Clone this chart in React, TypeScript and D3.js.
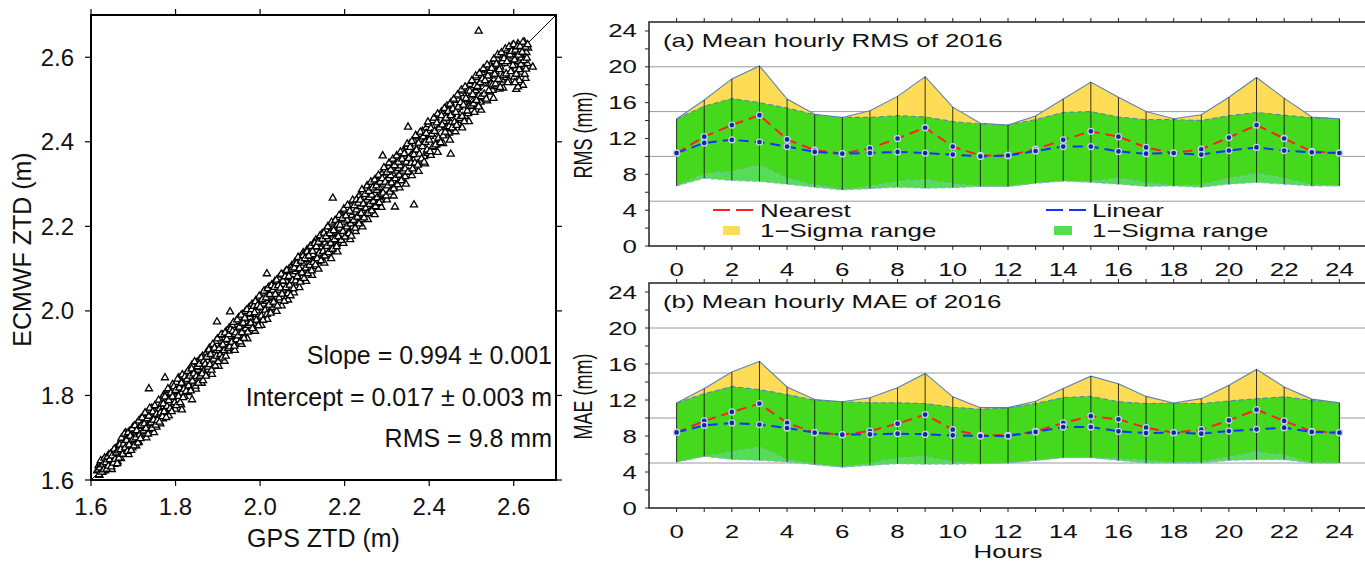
import React from 'react';
import * as d3 from 'd3';

const W = 1365;
const H = 562;
const FONT = "'Liberation Sans', Arial, Helvetica, sans-serif";
const SX = 1.44; // horizontal stretch of the right-hand panels' lettering

// ---------- Scatter data (GPS ZTD, ECMWF ZTD) in metres ----------
const scatterPoints: [number, number][] = [
  [1.615,1.622],[1.618,1.634],[1.620,1.611],[1.622,1.640],[1.624,1.627],[1.627,1.618],[1.629,1.645],[1.631,1.633],[1.633,1.622],[1.636,1.651],[1.638,1.641],[1.640,1.628],[1.642,1.660],[1.645,1.637],[1.647,1.650],[1.649,1.625],[1.652,1.668],[1.654,1.646],[1.656,1.637],[1.658,1.674],[1.661,1.655],[1.663,1.643],[1.665,1.681],
  [1.667,1.662],[1.669,1.690],[1.671,1.651],[1.673,1.678],[1.676,1.700],[1.678,1.665],[1.680,1.689],[1.682,1.712],[1.685,1.671],[1.687,1.697],[1.689,1.660],[1.691,1.715],[1.694,1.684],[1.696,1.703],[1.698,1.676],[1.700,1.726],[1.703,1.692],[1.705,1.714],[1.707,1.681],[1.709,1.734],[1.711,1.702],[1.713,1.690],[1.715,1.727],
  [1.717,1.744],[1.719,1.708],[1.722,1.731],[1.724,1.752],[1.726,1.715],[1.728,1.740],[1.731,1.700],[1.733,1.757],[1.735,1.728],[1.737,1.765],[1.740,1.719],[1.742,1.748],[1.744,1.770],[1.746,1.735],[1.749,1.712],[1.751,1.762],[1.753,1.744],[1.755,1.725],[1.758,1.781],[1.760,1.752],[1.762,1.768],[1.764,1.733],[1.766,1.790],
  [1.768,1.758],[1.770,1.745],[1.772,1.801],[1.775,1.779],[1.777,1.760],[1.779,1.808],[1.781,1.790],[1.784,1.752],[1.786,1.812],[1.788,1.795],[1.790,1.770],[1.793,1.826],[1.795,1.803],[1.797,1.779],[1.799,1.768],[1.802,1.831],[1.804,1.810],[1.806,1.789],[1.808,1.842],[1.811,1.820],[1.813,1.778],[1.815,1.807],[1.817,1.846],
  [1.819,1.826],[1.821,1.798],[1.824,1.850],[1.826,1.815],[1.828,1.834],[1.830,1.807],[1.833,1.862],[1.835,1.841],[1.837,1.819],[1.839,1.872],[1.842,1.848],[1.844,1.826],[1.846,1.856],[1.848,1.815],[1.851,1.879],[1.853,1.860],[1.855,1.838],[1.857,1.885],[1.860,1.866],[1.862,1.829],[1.864,1.893],[1.866,1.858],[1.868,1.874],
  [1.870,1.852],[1.873,1.901],[1.875,1.882],[1.877,1.860],[1.880,1.912],[1.882,1.890],[1.884,1.868],[1.886,1.850],[1.889,1.918],[1.891,1.897],[1.893,1.878],[1.895,1.928],[1.898,1.906],[1.900,1.884],[1.902,1.869],[1.904,1.936],[1.907,1.915],[1.909,1.893],[1.911,1.943],[1.913,1.920],[1.916,1.881],[1.918,1.925],[1.920,1.952],
  [1.922,1.931],[1.925,1.905],[1.927,1.960],[1.929,1.939],[1.931,1.918],[1.934,1.966],[1.936,1.944],[1.938,1.922],[1.940,1.907],[1.943,1.975],[1.945,1.953],[1.947,1.930],[1.949,1.984],[1.952,1.960],[1.954,1.938],[1.956,1.921],[1.958,1.992],[1.961,1.969],[1.963,1.946],[1.965,1.999],[1.967,1.975],[1.970,1.934],[1.972,1.981],
  [1.974,2.008],[1.976,1.985],[1.979,1.962],[1.981,2.016],[1.983,1.992],[1.985,1.969],[1.988,1.952],[1.990,2.025],[1.992,2.000],[1.994,1.977],[1.997,2.031],[1.999,2.008],[2.001,1.984],[2.003,1.966],[2.006,2.042],[2.008,2.016],[2.010,1.993],[2.012,2.048],[2.015,2.023],[2.017,1.980],[2.019,2.030],[2.021,2.057],[2.024,2.001],
  [2.026,2.035],[2.028,2.062],[2.030,2.008],[2.033,2.041],[2.035,2.070],[2.037,2.016],[2.039,1.999],[2.042,2.049],[2.044,2.078],[2.046,2.025],[2.048,2.057],[2.051,2.012],[2.053,2.085],[2.055,2.063],[2.057,2.034],[2.060,2.093],[2.062,2.070],[2.064,2.043],[2.066,2.026],[2.069,2.100],[2.071,2.079],[2.073,2.052],[2.075,2.107],
  [2.078,2.086],[2.080,2.043],[2.082,2.115],[2.084,2.093],[2.087,2.066],[2.089,2.120],[2.091,2.099],[2.093,2.055],[2.096,2.128],[2.098,2.106],[2.100,2.080],[2.102,2.138],[2.105,2.113],[2.107,2.089],[2.109,2.070],[2.111,2.145],[2.114,2.122],[2.116,2.096],[2.118,2.152],[2.120,2.129],[2.123,2.084],[2.125,2.133],[2.127,2.161],
  [2.129,2.105],[2.132,2.168],[2.134,2.143],[2.136,2.117],[2.138,2.099],[2.141,2.175],[2.143,2.151],[2.145,2.125],[2.147,2.183],[2.150,2.158],[2.152,2.113],[2.154,2.161],[2.156,2.192],[2.159,2.134],[2.161,2.170],[2.163,2.200],[2.165,2.141],[2.168,2.124],[2.170,2.206],[2.172,2.180],[2.174,2.152],[2.177,2.213],[2.179,2.187],
  [2.181,2.158],[2.183,2.140],[2.186,2.221],[2.188,2.196],[2.190,2.168],[2.192,2.228],[2.195,2.204],[2.197,2.160],[2.199,2.210],[2.201,2.237],[2.204,2.180],[2.206,2.215],[2.208,2.244],[2.210,2.186],[2.213,2.169],[2.215,2.251],[2.217,2.226],[2.219,2.198],[2.222,2.258],[2.224,2.233],[2.226,2.188],[2.228,2.239],[2.231,2.266],
  [2.233,2.210],[2.235,2.273],[2.237,2.247],[2.240,2.216],[2.242,2.199],[2.244,2.281],[2.246,2.255],[2.249,2.227],[2.251,2.288],[2.253,2.262],[2.255,2.216],[2.258,2.268],[2.260,2.297],[2.262,2.238],[2.264,2.274],[2.267,2.304],[2.269,2.245],[2.271,2.228],[2.273,2.311],[2.276,2.285],[2.278,2.254],[2.280,2.318],[2.282,2.292],
  [2.285,2.262],[2.287,2.245],[2.289,2.326],[2.291,2.300],[2.294,2.270],[2.296,2.334],[2.298,2.308],[2.300,2.263],[2.303,2.313],[2.305,2.342],[2.307,2.283],[2.309,2.320],[2.312,2.350],[2.314,2.290],[2.316,2.272],[2.318,2.356],[2.321,2.331],[2.323,2.300],[2.325,2.363],[2.327,2.337],[2.330,2.291],[2.332,2.343],[2.334,2.371],
  [2.336,2.313],[2.339,2.379],[2.341,2.351],[2.343,2.318],[2.345,2.300],[2.348,2.388],[2.350,2.360],[2.352,2.328],[2.354,2.395],[2.357,2.368],[2.359,2.320],[2.361,2.372],[2.363,2.404],[2.366,2.341],[2.368,2.380],[2.370,2.412],[2.372,2.348],[2.375,2.330],[2.377,2.418],[2.379,2.390],[2.381,2.357],[2.384,2.425],[2.386,2.398],
  [2.388,2.365],[2.390,2.348],[2.393,2.433],[2.395,2.406],[2.397,2.373],[2.399,2.441],[2.402,2.413],[2.404,2.368],[2.406,2.418],[2.408,2.450],[2.411,2.387],[2.413,2.426],[2.415,2.457],[2.417,2.393],[2.420,2.375],[2.422,2.463],[2.424,2.436],[2.426,2.402],[2.429,2.471],[2.431,2.443],[2.433,2.396],[2.435,2.448],[2.438,2.478],
  [2.440,2.416],[2.442,2.485],[2.444,2.455],[2.447,2.421],[2.449,2.404],[2.451,2.492],[2.453,2.465],[2.456,2.431],[2.458,2.498],[2.460,2.471],[2.462,2.424],[2.465,2.476],[2.467,2.508],[2.469,2.444],[2.471,2.483],[2.474,2.514],[2.476,2.451],[2.478,2.433],[2.480,2.520],[2.483,2.494],[2.485,2.460],[2.487,2.527],[2.489,2.500],
  [2.492,2.467],[2.494,2.448],[2.496,2.536],[2.498,2.509],[2.501,2.475],[2.503,2.543],[2.505,2.516],[2.507,2.470],[2.510,2.521],[2.512,2.552],[2.514,2.489],[2.516,2.528],[2.519,2.558],[2.521,2.494],[2.523,2.475],[2.525,2.564],[2.528,2.537],[2.530,2.504],[2.532,2.570],[2.534,2.545],[2.537,2.497],[2.539,2.549],[2.541,2.577],
  [2.543,2.518],[2.546,2.582],[2.548,2.556],[2.550,2.522],[2.552,2.503],[2.555,2.590],[2.557,2.566],[2.559,2.531],[2.561,2.596],[2.564,2.573],[2.566,2.525],[2.568,2.577],[2.570,2.604],[2.573,2.546],[2.575,2.527],[2.577,2.610],[2.579,2.585],[2.582,2.552],[2.584,2.616],[2.586,2.592],[2.588,2.545],[2.591,2.598],[2.593,2.622],
  [2.595,2.568],[2.597,2.628],[2.599,2.603],[2.601,2.553],[2.604,2.580],[2.606,2.524],[2.608,2.612],[2.610,2.632],[2.612,2.590],[2.615,2.540],[2.617,2.618],[2.619,2.565],[2.621,2.600],[2.623,2.629],[2.626,2.578],[2.628,2.550],[2.630,2.611],[2.632,2.585],[2.634,2.622],[2.625,2.636],[2.618,2.598],[2.613,2.571],
  [2.517,2.662],[2.645,2.577],[2.451,2.371],[2.364,2.251],[2.172,2.267],[2.319,2.246],[2.290,2.367],[2.350,2.435],[1.737,1.816],[1.775,1.842],[1.839,1.790],[1.815,1.766],[1.898,1.974],[1.929,1.998],[2.016,2.088],
];
const scatterPoints2: [number, number][] = [
  [1.616,1.624],[1.619,1.613],[1.621,1.629],[1.623,1.646],[1.626,1.619],[1.628,1.636],[1.630,1.624],[1.632,1.652],[1.635,1.641],[1.637,1.626],[1.639,1.655],[1.641,1.633],[1.644,1.648],[1.646,1.662],[1.648,1.631],[1.650,1.657],[1.653,1.640],[1.655,1.673],[1.657,1.649],[1.659,1.664],[1.662,1.639],[1.664,1.669],[1.666,1.652],
  [1.668,1.683],[1.670,1.672],[1.672,1.699],[1.675,1.661],[1.677,1.685],[1.679,1.709],[1.681,1.676],[1.684,1.694],[1.686,1.668],[1.688,1.712],[1.690,1.683],[1.693,1.704],[1.695,1.670],[1.697,1.721],[1.699,1.696],[1.702,1.681],[1.704,1.729],[1.706,1.700],[1.708,1.717],[1.711,1.688],[1.713,1.740],[1.715,1.707],[1.717,1.698],
  [1.719,1.729],[1.721,1.747],[1.724,1.716],[1.726,1.733],[1.728,1.759],[1.730,1.722],[1.733,1.745],[1.735,1.709],[1.737,1.751],[1.739,1.770],[1.742,1.735],[1.744,1.722],[1.746,1.761],[1.748,1.742],[1.751,1.776],[1.753,1.730],[1.755,1.756],[1.757,1.741],[1.760,1.789],[1.762,1.737],[1.764,1.759],[1.766,1.779],[1.769,1.750],
  [1.771,1.780],[1.773,1.762],[1.775,1.797],[1.778,1.748],[1.780,1.774],[1.782,1.816],[1.784,1.788],[1.787,1.769],[1.789,1.806],[1.791,1.762],[1.793,1.797],[1.796,1.821],[1.798,1.783],[1.800,1.812],[1.802,1.776],[1.805,1.839],[1.807,1.798],[1.809,1.818],[1.811,1.783],[1.814,1.829],[1.816,1.849],[1.818,1.795],[1.820,1.815],
  [1.822,1.844],[1.825,1.810],[1.827,1.838],[1.829,1.857],[1.831,1.823],[1.834,1.846],[1.836,1.811],[1.838,1.863],[1.840,1.834],[1.843,1.851],[1.845,1.880],[1.847,1.822],[1.849,1.845],[1.852,1.868],[1.854,1.829],[1.856,1.874],[1.858,1.846],[1.861,1.889],[1.863,1.851],[1.865,1.835],[1.867,1.881],[1.870,1.874],[1.872,1.846],
  [1.874,1.891],[1.876,1.867],[1.879,1.908],[1.881,1.873],[1.883,1.897],[1.885,1.860],[1.888,1.921],[1.890,1.886],[1.892,1.912],[1.894,1.870],[1.897,1.893],[1.899,1.934],[1.901,1.880],[1.903,1.911],[1.906,1.897],[1.908,1.944],[1.910,1.889],[1.912,1.920],[1.915,1.906],[1.917,1.948],[1.919,1.893],[1.921,1.933],[1.924,1.911],
  [1.926,1.944],[1.928,1.915],[1.930,1.956],[1.933,1.926],[1.935,1.952],[1.937,1.973],[1.939,1.917],[1.942,1.948],[1.944,1.932],[1.946,1.979],[1.948,1.941],[1.951,1.962],[1.953,1.927],[1.955,1.990],[1.957,1.949],[1.960,1.971],[1.962,1.935],[1.964,1.983],[1.966,1.958],[1.969,2.003],[1.971,1.950],[1.973,1.966],[1.976,1.994],
  [1.978,1.971],[1.980,2.003],[1.982,1.958],[1.985,2.011],[1.987,1.996],[1.989,2.022],[1.991,1.978],[1.994,2.013],[1.996,1.965],[1.998,2.035],[2.000,2.009],[2.003,1.988],[2.005,2.027],[2.007,1.978],[2.009,2.047],[2.012,2.002],[2.014,2.031],[2.016,1.992],[2.018,2.053],[2.021,2.014],[2.023,2.039],[2.025,1.995],[2.027,2.060],
  [2.030,2.049],[2.032,2.021],[2.034,2.056],[2.036,2.039],[2.039,2.073],[2.041,2.012],[2.043,2.060],[2.045,2.031],[2.048,2.054],[2.050,2.087],[2.052,2.040],[2.054,2.071],[2.057,2.023],[2.059,2.081],[2.061,2.055],[2.063,2.096],[2.066,2.041],[2.068,2.082],[2.070,2.061],[2.072,2.036],[2.075,2.099],[2.077,2.072],[2.079,2.053],
  [2.081,2.102],[2.084,2.071],[2.086,2.112],[2.088,2.081],[2.090,2.127],[2.093,2.100],[2.095,2.068],[2.097,2.118],[2.099,2.090],[2.102,2.131],[2.104,2.077],[2.106,2.124],[2.108,2.101],[2.111,2.140],[2.113,2.088],[2.115,2.130],[2.117,2.108],[2.120,2.153],[2.122,2.095],[2.124,2.141],[2.126,2.115],[2.129,2.160],[2.131,2.109],
  [2.133,2.152],[2.135,2.124],[2.138,2.163],[2.140,2.137],[2.142,2.178],[2.144,2.119],[2.147,2.170],[2.149,2.141],[2.151,2.184],[2.153,2.130],[2.156,2.176],[2.158,2.153],[2.160,2.199],[2.162,2.138],[2.165,2.183],[2.167,2.160],[2.169,2.210],[2.171,2.146],[2.174,2.190],[2.176,2.169],[2.178,2.214],[2.181,2.152],[2.183,2.203],
  [2.185,2.176],[2.187,2.226],[2.189,2.203],[2.192,2.167],[2.194,2.219],[2.196,2.188],[2.198,2.241],[2.201,2.175],[2.203,2.225],[2.205,2.199],[2.207,2.250],[2.210,2.183],[2.212,2.236],[2.214,2.206],[2.216,2.177],[2.219,2.262],[2.221,2.214],[2.223,2.249],[2.225,2.196],[2.228,2.263],[2.230,2.222],[2.232,2.255],[2.234,2.206],
  [2.237,2.262],[2.239,2.231],[2.241,2.287],[2.244,2.253],[2.246,2.220],[2.248,2.276],[2.250,2.243],[2.253,2.296],[2.255,2.231],[2.257,2.283],[2.259,2.252],[2.262,2.305],[2.264,2.237],[2.266,2.291],[2.268,2.259],[2.271,2.310],[2.273,2.247],[2.275,2.296],[2.277,2.268],[2.280,2.321],[2.282,2.256],[2.284,2.305],[2.286,2.275],
  [2.289,2.313],[2.291,2.279],[2.293,2.339],[2.296,2.305],[2.298,2.272],[2.300,2.328],[2.302,2.296],[2.305,2.350],[2.307,2.281],[2.309,2.334],[2.311,2.303],[2.314,2.359],[2.316,2.289],[2.318,2.344],[2.320,2.313],[2.323,2.367],[2.325,2.299],[2.327,2.352],[2.329,2.321],[2.332,2.376],[2.334,2.308],[2.336,2.359],[2.338,2.331],
  [2.341,2.372],[2.343,2.336],[2.346,2.352],[2.348,2.395],[2.350,2.329],[2.352,2.361],[2.355,2.387],[2.357,2.349],[2.359,2.401],[2.361,2.336],[2.364,2.370],[2.366,2.350],[2.368,2.415],[2.370,2.381],[2.373,2.345],[2.375,2.397],[2.377,2.371],[2.379,2.423],[2.382,2.360],[2.384,2.389],[2.386,2.412],[2.388,2.352],[2.391,2.399],
  [2.393,2.420],[2.395,2.381],[2.397,2.447],[2.400,2.404],[2.402,2.377],[2.404,2.432],[2.406,2.418],[2.409,2.389],[2.411,2.456],[2.413,2.425],[2.415,2.393],[2.418,2.445],[2.420,2.466],[2.422,2.409],[2.424,2.433],[2.427,2.398],[2.429,2.462],[2.431,2.440],[2.433,2.414],[2.436,2.479],[2.438,2.423],[2.440,2.456],[2.442,2.434],
  [2.445,2.472],[2.447,2.436],[2.449,2.489],[2.451,2.462],[2.454,2.433],[2.456,2.478],[2.458,2.501],[2.460,2.447],[2.463,2.470],[2.465,2.439],[2.467,2.511],[2.469,2.482],[2.472,2.455],[2.474,2.493],[2.476,2.523],[2.478,2.460],[2.481,2.487],[2.483,2.448],[2.485,2.530],[2.487,2.503],[2.490,2.473],[2.492,2.521],[2.494,2.484],
  [2.496,2.520],[2.499,2.485],[2.501,2.545],[2.503,2.512],[2.505,2.490],[2.508,2.533],[2.510,2.556],[2.512,2.498],[2.514,2.531],[2.517,2.483],[2.519,2.562],[2.521,2.540],[2.523,2.507],[2.526,2.549],[2.528,2.573],[2.530,2.513],[2.532,2.545],[2.535,2.501],[2.537,2.582],[2.539,2.556],[2.541,2.521],[2.544,2.568],[2.546,2.537],
  [2.548,2.574],[2.550,2.535],[2.553,2.596],[2.555,2.560],[2.557,2.537],[2.559,2.584],[2.562,2.606],[2.564,2.548],[2.566,2.571],[2.568,2.529],[2.571,2.611],[2.573,2.590],[2.575,2.557],[2.577,2.597],[2.580,2.620],[2.582,2.561],[2.584,2.590],[2.586,2.540],[2.589,2.625],[2.591,2.606],[2.593,2.566],[2.595,2.614],[2.598,2.581],
  [2.600,2.630],[2.602,2.594],[2.604,2.617],[2.606,2.560],[2.609,2.625],[2.611,2.605],[2.613,2.545],[2.615,2.626],[2.617,2.583],[2.620,2.612],[2.622,2.636],[2.624,2.592],[2.626,2.560],[2.628,2.624],[2.631,2.598],[2.633,2.630],[2.622,2.534],[2.610,2.530],[2.629,2.572],[2.603,2.540],
];
const scatterTicks = [1.6, 1.8, 2.0, 2.2, 2.4, 2.6];
const statLines = ['Slope = 0.994 \u00b1 0.001', 'Intercept = 0.017 \u00b1 0.003 m', 'RMS = 9.8 mm'];

// ---------- Hourly statistics (mm) ----------
const hours = [0,1,2,3,4,5,6,7,8,9,10,11,12,13,14,15,16,17,18,19,20,21,22,23,24];
const hourTickLabels = [0,2,4,6,8,10,12,14,16,18,20,22,24];
const valueTickLabels = [0,4,8,12,16,20,24];
const minorValueTicks = [0,2,4,6,8,10,12,14,16,18,20,22,24];
const gridValues = [5,10,15,20];

const rmsNearest      = [10.37,12.2,13.5,14.6,11.9,10.7,10.3,10.9,12.0,13.2,11.1,10.1,10.1,10.8,11.85,12.8,12.2,11.0,10.37,10.8,12.1,13.5,12.0,10.55,10.37];
const rmsLinear       = [10.37,11.5,11.85,11.6,11.1,10.5,10.3,10.37,10.5,10.37,10.2,10.0,10.1,10.6,11.1,11.1,10.55,10.3,10.37,10.2,10.65,11.0,10.65,10.45,10.37];
const rmsNearestUpper = [14.17,16.3,18.65,20.1,16.4,14.7,14.35,15.1,16.7,18.9,15.5,13.7,13.5,14.5,16.4,18.3,16.6,15.0,14.2,14.65,16.6,18.8,16.5,14.4,14.2];
const rmsNearestLower = [6.7,8.05,8.3,9.05,7.55,6.8,6.3,6.65,7.2,7.4,6.95,6.65,6.65,7.0,7.25,7.2,7.55,7.1,6.7,6.8,7.55,8.1,7.55,6.8,6.7];
const rmsLinearUpper  = [14.17,15.6,16.45,16.0,15.4,14.65,14.35,14.35,14.55,14.4,13.9,13.6,13.5,14.1,14.9,15.0,14.4,14.1,14.1,14.0,14.55,14.9,14.6,14.3,14.2];
const rmsLinearLower  = [6.7,7.55,7.3,7.2,6.9,6.55,6.25,6.4,6.55,6.45,6.5,6.65,6.65,7.0,7.25,7.1,6.9,6.65,6.7,6.55,6.9,7.1,6.9,6.7,6.7];

const maeNearest      = [8.4,9.67,10.67,11.6,9.45,8.37,8.15,8.55,9.37,10.38,8.7,8.07,8.07,8.52,9.45,10.2,9.85,8.93,8.37,8.7,9.74,10.93,9.67,8.52,8.37];
const maeLinear       = [8.4,9.19,9.45,9.27,8.89,8.37,8.15,8.18,8.26,8.18,8.07,8.0,8.0,8.45,9.0,9.0,8.52,8.33,8.37,8.26,8.55,8.74,8.93,8.45,8.37];
const maeNearestUpper = [11.67,13.27,15.1,16.3,13.45,12.05,11.8,12.25,13.35,14.95,12.35,11.15,11.15,11.85,13.27,14.65,13.8,12.4,11.67,12.15,13.65,15.4,13.45,12.1,11.7];
const maeNearestLower = [5.1,5.73,6.21,6.77,5.37,4.87,4.54,4.92,5.55,5.73,5.1,4.92,4.99,5.29,5.59,5.59,5.48,5.29,5.0,5.1,5.66,6.21,5.85,5.0,5.0];
const maeLinearUpper  = [11.67,12.7,13.5,13.15,12.6,11.97,11.8,11.7,11.7,11.6,11.2,10.97,11.1,11.6,12.27,12.4,11.8,11.6,11.67,11.6,11.9,12.15,12.35,11.97,11.7];
const maeLinearLower  = [5.1,5.73,5.4,5.29,5.1,4.81,4.54,4.73,4.92,4.87,4.87,4.92,4.99,5.29,5.59,5.59,5.29,5.0,5.0,4.99,5.29,5.37,5.37,5.0,5.0];

const C_YELLOW = '#ffdc55';
const C_GREEN_ONLY = '#55dd55';
const C_GREEN = '#44d91c';
const C_EDGE = '#5a83b2';
const C_RED = '#ff1f1f';
const C_BLUE = '#1234ff';

// ---------- helpers ----------
function SText(props: { x: number; y: number; anchor?: string; size?: number; rotate?: boolean; children: React.ReactNode }) {
  const { x, y, anchor = 'start', size = 18, rotate = false, children } = props;
  const t = `translate(${x},${y}) scale(${SX},1)` + (rotate ? ' rotate(-90)' : '');
  return (
    <text transform={t} textAnchor={anchor} fontSize={size} fill="#111">
      {children}
    </text>
  );
}

function Scatter() {
  const x = d3.scaleLinear().domain([1.6, 2.7]).range([91, 556]);
  const y = d3.scaleLinear().domain([1.6, 2.7]).range([480, 15]);
  const tri = d3.symbol(d3.symbolTriangle, 22)() as string;
  const [x0, x1] = x.range();
  const [y0, y1] = y.range();
  const pts = scatterPoints.concat(scatterPoints2);
  return (
    <g>
      <line x1={x(1.6)} y1={y(1.6)} x2={x(2.7)} y2={y(2.7)} stroke="#000" strokeWidth={1} />
      <g>
        {pts.map((p, i) => (
          <path key={i} d={tri} transform={`translate(${x(p[0])},${y(p[1])})`} fill="#fff" stroke="#000" strokeWidth={1.3} />
        ))}
      </g>
      <rect x={x0} y={y1} width={x1 - x0} height={y0 - y1} fill="none" stroke="#000" strokeWidth={2} />
      {scatterTicks.map((t) => (
        <g key={t}>
          <line x1={x(t)} x2={x(t)} y1={y0} y2={y0 + 6} stroke="#000" strokeWidth={1.2} />
          <line x1={x(t)} x2={x(t)} y1={y1} y2={y1 - 6} stroke="#000" strokeWidth={1.2} />
          <line x1={x0} x2={x0 - 6} y1={y(t)} y2={y(t)} stroke="#000" strokeWidth={1.2} />
          <line x1={x1} x2={x1 + 6} y1={y(t)} y2={y(t)} stroke="#000" strokeWidth={1.2} />
          <text x={x(t)} y={515} textAnchor="middle" fontSize={24} fill="#111">{d3.format('.1f')(t)}</text>
          <text x={74} y={y(t) + 8.5} textAnchor="end" fontSize={24} fill="#111">{d3.format('.1f')(t)}</text>
        </g>
      ))}
      <text x={(x0 + x1) / 2} y={547} textAnchor="middle" fontSize={25} fill="#111">GPS ZTD (m)</text>
      <text transform={`translate(31,${(y0 + y1) / 2 + 2}) rotate(-90)`} textAnchor="middle" fontSize={25} fill="#111">ECMWF ZTD (m)</text>
      {statLines.map((s, i) => (
        <text key={s} x={552} y={364 + i * 41.5} textAnchor="end" fontSize={25} fill="#111">{s}</text>
      ))}
    </g>
  );
}

type PanelProps = {
  top: number;
  bottom: number;
  title: string;
  ylabel: string;
  nearest: number[];
  linear: number[];
  nU: number[];
  nL: number[];
  lU: number[];
  lL: number[];
  legend: boolean;
  xlabel: boolean;
};

function Panel(p: PanelProps) {
  const x = d3.scaleLinear().domain([-1, 25]).range([649, 1367]);
  const y = d3.scaleLinear().domain([0, 25]).range([p.bottom, p.top]);
  const idx = hours.map((_, i) => i);
  const band = (lo: (i: number) => number, hi: (i: number) => number) =>
    d3.area<number>().x((i) => x(hours[i])).y0((i) => y(lo(i))).y1((i) => y(hi(i)))(idx) as string;
  const line = (v: number[]) => d3.line<number>().x((i) => x(hours[i])).y((i) => y(v[i]))(idx) as string;
  const [xl, xr] = x.range();
  return (
    <g>
      {gridValues.map((g) => (
        <line key={g} x1={xl} x2={xr} y1={y(g)} y2={y(g)} stroke="#9a9a9a" strokeWidth={1} />
      ))}
      <path d={band((i) => p.nL[i], (i) => p.nU[i])} fill={C_YELLOW} />
      <path d={band((i) => p.lL[i], (i) => p.lU[i])} fill={C_GREEN_ONLY} />
      <path d={band((i) => Math.max(p.nL[i], p.lL[i]), (i) => Math.min(p.nU[i], p.lU[i]))} fill={C_GREEN} />
      <path d={line(p.nU)} fill="none" stroke={C_EDGE} strokeWidth={1.1} />
      <path d={line(p.lU)} fill="none" stroke={C_EDGE} strokeWidth={1.1} strokeDasharray="5,3" />
      <path d={line(p.nL)} fill="none" stroke="#8fb3d9" strokeWidth={1} strokeDasharray="4,3" />
      <path d={line(p.lL)} fill="none" stroke="#8fb3d9" strokeWidth={1} strokeDasharray="4,3" />
      {hours.map((h, i) => (
        <line key={h} x1={x(h)} x2={x(h)}
          y1={y(Math.min(p.nL[i], p.lL[i]))} y2={y(Math.max(p.nU[i], p.lU[i]))}
          stroke="#151515" strokeWidth={1} opacity={0.85} />
      ))}
      <path d={line(p.nearest)} fill="none" stroke={C_RED} strokeWidth={2} strokeDasharray="10,6" />
      <path d={line(p.linear)} fill="none" stroke={C_BLUE} strokeWidth={2} strokeDasharray="10,6" />
      {[p.nearest, p.linear].map((s, k) =>
        hours.map((h, i) => (
          <circle key={`${k}-${h}`} cx={x(h)} cy={y(s[i])} r={3} fill="#0d2a9c" stroke="#c9d2ee" strokeWidth={1.3} />
        ))
      )}
      <rect x={xl} y={p.top} width={xr - xl} height={p.bottom - p.top} fill="none" stroke="#222" strokeWidth={1.5} />
      {minorValueTicks.map((v) => (
        <line key={v} x1={xl} x2={xl - 4} y1={y(v)} y2={y(v)} stroke="#222" strokeWidth={1} />
      ))}
      {hours.map((h) => (
        <g key={h}>
          <line x1={x(h)} x2={x(h)} y1={p.bottom} y2={p.bottom + 4} stroke="#222" strokeWidth={1} />
          <line x1={x(h)} x2={x(h)} y1={p.top} y2={p.top - 4} stroke="#222" strokeWidth={1} />
        </g>
      ))}
      {valueTickLabels.map((v) => (
        <SText key={v} x={637} y={y(v) + 6.5} anchor="end">{v}</SText>
      ))}
      {hourTickLabels.map((h) => (
        <SText key={h} x={x(h)} y={p.bottom + 30} anchor="middle">{h}</SText>
      ))}
      <SText x={663} y={p.top + 25} anchor="start">{p.title}</SText>
      <SText x={592} y={(p.top + p.bottom) / 2 + 1} anchor="middle" rotate>{p.ylabel}</SText>
      {p.xlabel && <SText x={x(12)} y={558} anchor="middle">Hours</SText>}
      {p.legend && (
        <g>
          <line x1={713} x2={753} y1={210} y2={210} stroke={C_RED} strokeWidth={2} strokeDasharray="17,6" />
          <SText x={760} y={217}>Nearest</SText>
          <rect x={723} y={226} width={17} height={9} fill={C_YELLOW} />
          <SText x={760} y={237}>1{'\u2212'}Sigma range</SText>
          <line x1={1046} x2={1086} y1={210} y2={210} stroke={C_BLUE} strokeWidth={2} strokeDasharray="17,6" />
          <SText x={1092} y={217}>Linear</SText>
          <rect x={1054} y={226} width={18} height={9} fill={C_GREEN_ONLY} />
          <SText x={1092} y={237}>1{'\u2212'}Sigma range</SText>
        </g>
      )}
    </g>
  );
}

export default function App() {
  return (
    <svg width={W} height={H} style={{ position: 'absolute', left: 0, top: 0, background: '#fff' }} fontFamily={FONT}>
      <rect x={0} y={0} width={W} height={H} fill="#fff" />
      <Scatter />
      <Panel top={22} bottom={246} title="(a) Mean hourly RMS of 2016" ylabel="RMS (mm)"
        nearest={rmsNearest} linear={rmsLinear} nU={rmsNearestUpper} nL={rmsNearestLower}
        lU={rmsLinearUpper} lL={rmsLinearLower} legend={true} xlabel={false} />
      <Panel top={283} bottom={508} title="(b) Mean hourly MAE of 2016" ylabel="MAE (mm)"
        nearest={maeNearest} linear={maeLinear} nU={maeNearestUpper} nL={maeNearestLower}
        lU={maeLinearUpper} lL={maeLinearLower} legend={false} xlabel={true} />
    </svg>
  );
}
